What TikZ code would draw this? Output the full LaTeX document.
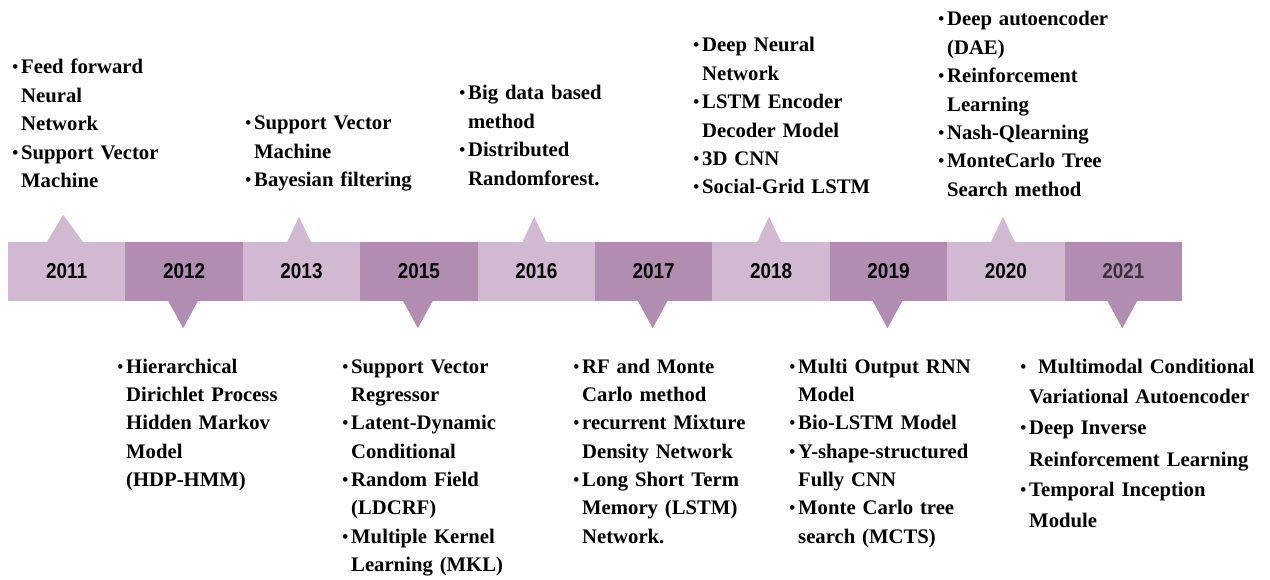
\documentclass[tikz,border=0pt]{standalone}
\usepackage{fontspec}
\setmainfont{Liberation Serif}
\newfontfamily\yearfont{Liberation Sans}[FakeStretch=0.88]
\usetikzlibrary{calc}

\definecolor{bandlight}{RGB}{209,185,210}
\definecolor{banddark}{RGB}{177,141,178}
\definecolor{yeardim}{RGB}{58,50,58}

% small bullet hung into the left margin of a list line
\newcommand{\itm}{\leavevmode\llap{\raisebox{1pt}{\fontsize{17}{17}\selectfont\textbullet}\kern2.8pt}}

\tikzset{
  yearbox/.style={rectangle, inner sep=0pt, minimum width=117.4pt, minimum height=59pt,
    font=\yearfont\bfseries\fontsize{21.5}{21.5}\selectfont},
  lightbox/.style={yearbox, fill=bandlight},
  darkbox/.style={yearbox, fill=banddark},
  itemlist/.style={anchor=base west, inner sep=0pt, align=left, text width=262pt,
    font=\bfseries\fontsize{20.7}{28.4}\selectfont},
  widelist/.style={itemlist, font=\bfseries\fontsize{20.7}{31}\selectfont},
}

\begin{document}
\begin{tikzpicture}[x=1pt, y=-1pt]
\useasboundingbox (0,0) rectangle (1270,580);

% the year band
\node[lightbox] (b2011) at (66.7,271.5) {2011};
\node[darkbox]  (b2012) at (184.1,271.5) {2012};
\node[lightbox] (b2013) at (301.5,271.5) {2013};
\node[darkbox]  (b2015) at (418.9,271.5) {2015};
\node[lightbox] (b2016) at (536.3,271.5) {2016};
\node[darkbox]  (b2017) at (653.7,271.5) {2017};
\node[lightbox] (b2018) at (771.1,271.5) {2018};
\node[darkbox]  (b2019) at (888.5,271.5) {2019};
\node[lightbox] (b2020) at (1005.9,271.5) {2020};
\node[darkbox, text=yeardim] (b2021) at (1123.3,271.5) {2021};

% pointers above the band
\fill[bandlight] ($(b2011.north)+(-20,0.5)$) -- ($(b2011.north)+(-3.5,-27)$) -- ($(b2011.north)+(16.5,0.5)$) -- cycle;
\foreach \b/\dx in {b2013/-2.5, b2016/-2, b2018/-2, b2020/-3}
  \fill[bandlight] ($(\b.north)+(\dx-12,0.5)$) -- ($(\b.north)+(\dx,-25)$) -- ($(\b.north)+(\dx+12,0.5)$) -- cycle;

% pointers below the band
\foreach \b in {b2012, b2015, b2017, b2019, b2021}
  \fill[banddark] ($(\b.south)+(-16,-0.5)$) -- ($(\b.south)+(-1,27)$) -- ($(\b.south)+(14,-0.5)$) -- cycle;

% methods above the band
\node[itemlist] (t2011) at (21,74) {\itm Feed forward\\Neural\\Network\\\itm Support Vector\\Machine};
\node[itemlist] (t2013) at (254,130) {\itm Support Vector\\Machine\\\itm Bayesian filtering};
\node[itemlist] (t2016) at (468,100) {\itm Big data based\\method\\\itm Distributed\\Randomforest.};
\node[itemlist] (t2018) at (702,52) {\itm Deep Neural\\Network\\\itm LSTM Encoder\\Decoder Model\\\itm 3D CNN\\\itm Social-Grid LSTM};
\node[itemlist] (t2020) at (947,26) {\itm Deep autoencoder\\(DAE)\\\itm Reinforcement\\Learning\\\itm Nash-Qlearning\\\itm MonteCarlo Tree\\Search method};

% methods below the band
\node[itemlist] (t2012) at (126,373) {\itm Hierarchical\\Dirichlet Process\\Hidden Markov\\Model\\(HDP-HMM)};
\node[itemlist] (t2015) at (351,373) {\itm Support Vector\\Regressor\\\itm Latent-Dynamic\\Conditional\\\itm Random Field\\(LDCRF)\\\itm Multiple Kernel\\Learning (MKL)};
\node[itemlist] (t2017) at (582,373) {\itm RF and Monte\\Carlo method\\\itm recurrent Mixture\\Density Network\\\itm Long Short Term\\Memory (LSTM)\\Network.};
\node[itemlist] (t2019) at (798,373) {\itm Multi Output RNN\\Model\\\itm Bio-LSTM Model\\\itm Y-shape-structured\\Fully CNN\\\itm Monte Carlo tree\\search (MCTS)};
\node[widelist] (t2021) at (1029,373) {\itm\hspace{9pt}Multimodal Conditional\\Variational Autoencoder\\\itm Deep Inverse\\Reinforcement Learning\\\itm Temporal Inception\\Module};
\end{tikzpicture}
\end{document}
